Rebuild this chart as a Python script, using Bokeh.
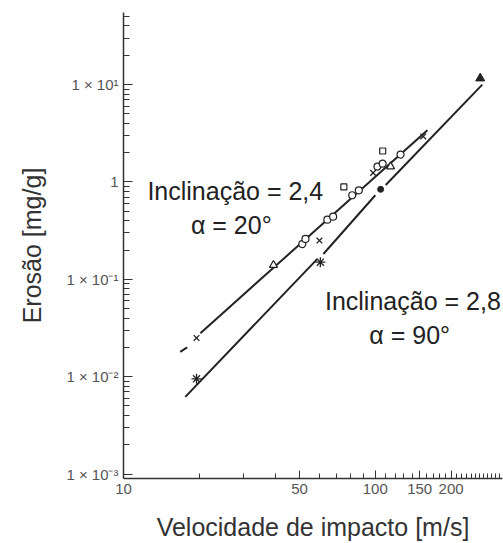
from bokeh.plotting import figure
from bokeh.models import Range1d, FixedTicker, Label
from bokeh.embed import file_html
from bokeh.resources import INLINE

# ---- data ----
# alpha = 20 deg (slope 2.4)
up_line_v = [20.2, 161]
up_line_e = [0.028, 3.4]
up_dash_v = [16.8, 17.9]
up_dash_e = [0.018, 0.020]
up_circle_v = [51.3, 52.8, 64.5, 68, 81, 86, 102, 107, 126]
up_circle_e = [0.23, 0.26, 0.41, 0.44, 0.73, 0.82, 1.44, 1.54, 1.91]
up_tri_v = [39.4, 115]
up_tri_e = [0.14, 1.44]
up_sq_v = [75, 107]
up_sq_e = [0.89, 2.08]
up_x_v = [19.5, 60, 98, 155]
up_x_e = [0.025, 0.25, 1.24, 2.93]

# alpha = 90 deg (slope 2.8)
lo_seg_v = [[17.6, 58.9], [62.2, 100], [110, 266]]
lo_seg_e = [[0.0062, 0.162], [0.182, 0.73], [0.93, 10.0]]
lo_star_v = [19.5, 60.5]
lo_star_e = [0.0095, 0.15]
lo_dot_v = [105]
lo_dot_e = [0.84]
lo_tri_v = [261]
lo_tri_e = [11.6]

# axes
x_major = [10, 50, 100, 150, 200]
x_major_labels = ["10", "50", "100", "150", "200"]
x_minor = [20, 30, 40, 60, 70, 80, 90, 110, 120, 130, 140, 160, 170, 180, 190,
           210, 220, 230, 240, 250, 260, 270, 280, 290, 300, 310]
y_major = [0.001, 0.01, 0.1, 1, 10]
y_major_labels = ["1 × 10⁻³", "1 × 10⁻²", "1 × 10⁻¹", "1", "1 × 10¹"]
y_minor = [m * d for d in [0.001, 0.01, 0.1, 1, 10] for m in range(2, 10)]

annotations = [
    ("Inclinação = 2,4", 27.8, 0.80),
    ("α = 20°", 26.8, 0.36),
    ("Inclinação = 2,8", 141, 0.060),
    ("α = 90°", 137, 0.027),
]

INK = "#222222"

p = figure(width=503, height=543, x_axis_type="log", y_axis_type="log",
           x_range=Range1d(10, 320), y_range=Range1d(0.0009, 55),
           output_backend="svg", toolbar_location=None,
           min_border_left=123, min_border_right=1, min_border_top=12,
           min_border_bottom=63)
p.outline_line_color = None
p.grid.visible = False
p.background_fill_color = "white"
p.border_fill_color = "white"

# axes
p.xaxis.ticker = FixedTicker(ticks=x_major, minor_ticks=x_minor)
p.xaxis.major_label_overrides = {v: l for v, l in zip(x_major, x_major_labels)}
p.yaxis.ticker = FixedTicker(ticks=y_major, minor_ticks=y_minor)
p.yaxis.major_label_overrides = {v: l for v, l in zip(y_major, y_major_labels)}

for ax in (p.xaxis[0], p.yaxis[0]):
    ax.axis_line_color = "#333333"
    ax.axis_line_width = 1.5
    ax.major_tick_line_color = "#333333"
    ax.minor_tick_line_color = "#333333"
    ax.major_tick_out = 0
    ax.minor_tick_out = 0
    ax.major_label_text_font = "Liberation Sans"
    ax.major_label_text_font_size = "15px"
    ax.major_label_text_color = "#555555"
    ax.axis_label_text_font = "Liberation Sans"
    ax.axis_label_text_font_size = "25px"
    ax.axis_label_text_font_style = "normal"
    ax.axis_label_text_color = "#333333"

p.xaxis.major_tick_in = 8
p.xaxis.minor_tick_in = 5
p.yaxis.major_tick_in = 9
p.yaxis.minor_tick_in = 6
p.xaxis.major_label_standoff = 5
p.yaxis.major_label_standoff = 5
p.xaxis.axis_label = "Velocidade de impacto [m/s]"
p.yaxis.axis_label = "Erosão [mg/g]"
p.xaxis.axis_label_standoff = 16
p.yaxis.axis_label_standoff = 17

# lines
p.line(up_line_v, up_line_e, line_color=INK, line_width=2)
p.line(up_dash_v, up_dash_e, line_color=INK, line_width=2)
p.multi_line(lo_seg_v, lo_seg_e, line_color=INK, line_width=2)

# upper series markers
p.scatter(up_circle_v, up_circle_e, marker="circle", size=7,
          fill_color="white", line_color=INK, line_width=1.2)
p.scatter(up_tri_v, up_tri_e, marker="triangle", size=8,
          fill_color="white", line_color=INK, line_width=1.2)
p.scatter(up_sq_v, up_sq_e, marker="square", size=6,
          fill_color="white", line_color=INK, line_width=1.2)
p.scatter(up_x_v, up_x_e, marker="x", size=8, line_color=INK, line_width=1.3)

# lower series markers
p.scatter(lo_star_v, lo_star_e, marker="asterisk", size=10, line_color=INK, line_width=1.3)
p.scatter(lo_dot_v, lo_dot_e, marker="circle", size=6, fill_color=INK, line_color=INK)
p.scatter(lo_tri_v, lo_tri_e, marker="triangle", size=9, fill_color=INK, line_color=INK)

for txt, xv, yv in annotations:
    p.add_layout(Label(x=xv, y=yv, text=txt, text_align="center", text_baseline="middle",
                       text_font="Liberation Sans", text_font_size="25px", text_color=INK))

open("out.html", "w").write(file_html(p, INLINE))
